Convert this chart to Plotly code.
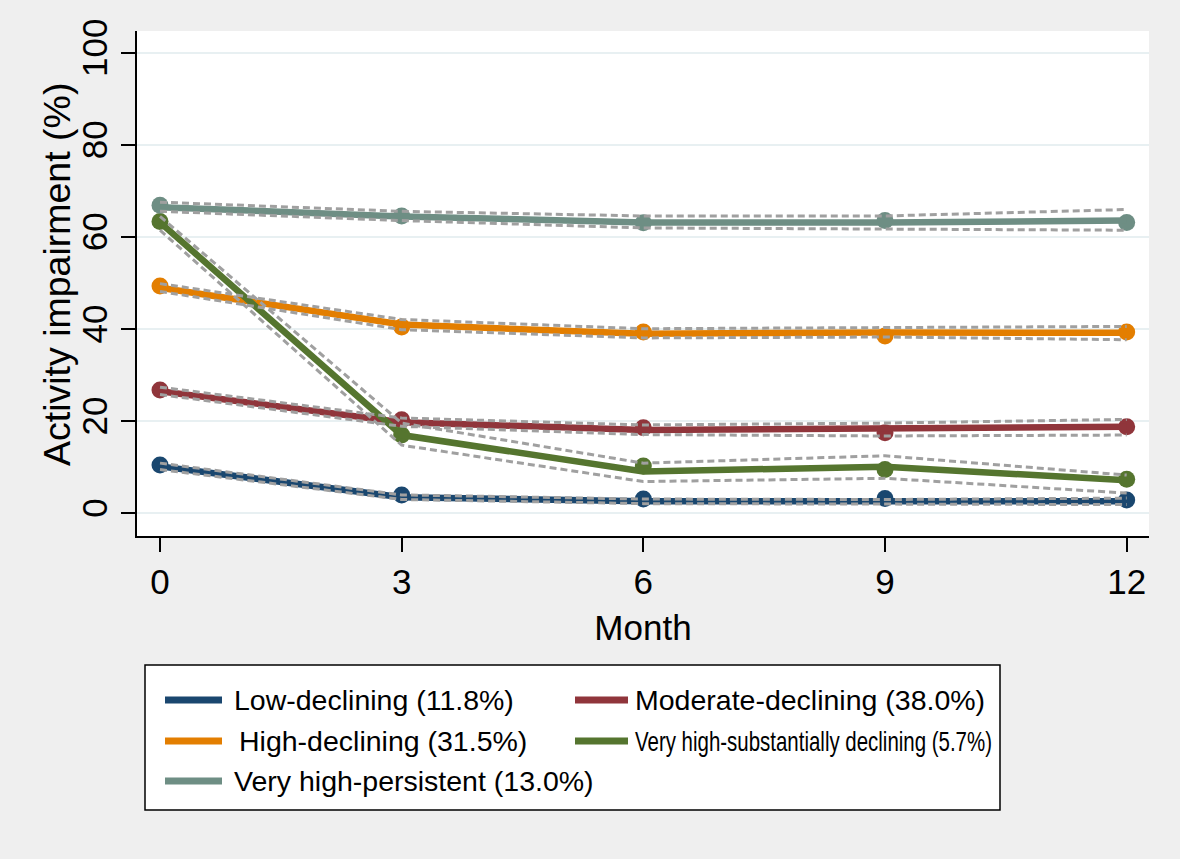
import plotly.graph_objects as go

months = [0, 3, 6, 9, 12]

group_names = [
    "Low-declining (11.8%)",
    "Moderate-declining (38.0%)",
    "High-declining (31.5%)",
    "Very high-substantially declining (5.7%)",
    "Very high-persistent (13.0%)",
]
group_colors = ["#1a476f", "#90353b", "#e37e00", "#55752f", "#6e8e84"]

# observed means (markers)
low_obs = [10.5, 4.0, 3.1, 3.2, 2.9]
mod_obs = [26.8, 20.3, 18.6, 17.5, 18.8]
high_obs = [49.4, 40.5, 39.4, 38.5, 39.4]
vhs_obs = [63.4, 17.0, 10.3, 9.5, 7.4]
vhp_obs = [66.9, 64.6, 63.1, 63.6, 63.2]

# predicted trajectories (lines)
low_pred = [10.2, 3.5, 2.6, 2.5, 2.6]
mod_pred = [26.5, 19.8, 18.1, 18.3, 18.8]
high_pred = [49.0, 41.0, 39.0, 39.3, 39.2]
vhs_pred = [63.2, 17.0, 9.1, 10.1, 7.2]
vhp_pred = [66.5, 64.5, 63.2, 63.2, 63.6]

# 95% confidence bounds (dashed)
low_lo = [9.5, 3.0, 2.1, 2.0, 1.9]
low_hi = [10.9, 4.0, 3.1, 3.0, 3.3]
mod_lo = [25.8, 18.9, 17.1, 16.8, 17.0]
mod_hi = [27.4, 20.7, 19.2, 19.6, 20.4]
high_lo = [48.2, 39.9, 38.1, 38.3, 37.7]
high_hi = [49.9, 42.1, 40.1, 40.4, 40.6]
vhs_lo = [61.5, 14.8, 6.9, 7.6, 4.4]
vhs_hi = [64.5, 19.6, 10.9, 12.5, 8.3]
vhp_lo = [65.6, 63.6, 62.0, 61.8, 61.5]
vhp_hi = [67.6, 65.6, 64.6, 64.6, 66.0]

obs = [low_obs, mod_obs, high_obs, vhs_obs, vhp_obs]
pred = [low_pred, mod_pred, high_pred, vhs_pred, vhp_pred]
lo = [low_lo, mod_lo, high_lo, vhs_lo, vhp_lo]
hi = [low_hi, mod_hi, high_hi, vhs_hi, vhp_hi]

y_ticks = [0, 20, 40, 60, 80, 100]

FONT = "Liberation Sans, Arial, sans-serif"

# figure geometry (pixels) used to place the hand-drawn key
W, H = 1180, 859
L, R, T, B = 137, 31, 31, 323
PW, PH = W - L - R, H - T - B


def px(xp):
    return (xp - L) / PW


def py(yp):
    return (H - B - yp) / PH


fig = go.Figure()

for i in range(5):
    fig.add_trace(go.Scatter(
        x=months, y=obs[i], mode="markers",
        marker=dict(color=group_colors[i], size=17, line=dict(width=0)),
        showlegend=False, hoverinfo="skip",
    ))

for i in range(5):
    fig.add_trace(go.Scatter(
        x=months, y=pred[i], mode="lines", name=group_names[i],
        line=dict(color=group_colors[i], width=6.5),
        showlegend=False,
    ))

for i in range(5):
    for bound in (lo[i], hi[i]):
        fig.add_trace(go.Scatter(
            x=months, y=bound, mode="lines",
            line=dict(color="#a0a0a0", width=3, dash="7px,4px"),
            showlegend=False, hoverinfo="skip",
        ))

# key (legend) drawn in paper coordinates
shapes = [dict(
    type="rect", xref="paper", yref="paper",
    x0=px(145), x1=px(1000), y0=py(665), y1=py(810),
    line=dict(color="#000000", width=1.5), fillcolor="#ffffff", layer="above",
)]
annotations = []
key_pos = [(165, 222, 232, 700), (575, 628, 633, 700),
           (165, 222, 237, 741), (575, 628, 633, 741),
           (165, 222, 232, 781)]
for i, (sx0, sx1, tx, ty) in enumerate(key_pos):
    shapes.append(dict(
        type="line", xref="paper", yref="paper",
        x0=px(sx0), x1=px(sx1), y0=py(ty), y1=py(ty),
        line=dict(color=group_colors[i], width=7), layer="above",
    ))
    annotations.append(dict(
        xref="paper", yref="paper", x=px(tx), y=py(ty),
        xanchor="left", yanchor="middle", showarrow=False,
        text=group_names[i],
        font=dict(family=FONT, size=28.5, color="#000000"),
    ))

annotations.append(dict(
    xref="paper", yref="paper", x=px(57), y=py(275),
    xanchor="center", yanchor="middle", showarrow=False, textangle=-90,
    text="Activity impairment (%)",
    font=dict(family=FONT, size=37.5, color="#000000"),
))

fig.update_layout(
    width=W, height=H,
    margin=dict(l=L, r=R, t=T, b=B, autoexpand=False),
    paper_bgcolor="#efefef",
    plot_bgcolor="#ffffff",
    font=dict(family=FONT, size=35, color="#000000"),
    showlegend=False,
    shapes=shapes,
    annotations=annotations,
)

fig.update_xaxes(
    range=[-0.2855, 12.277],
    tickmode="array", tickvals=months, ticktext=[str(m) for m in months],
    showgrid=False, zeroline=False,
    showline=True, linecolor="#000000", linewidth=1.5,
    ticks="outside", ticklen=14, tickwidth=1.5, tickcolor="#000000",
    tickfont=dict(size=35),
    title=dict(text="Month", font=dict(size=35), standoff=16),
)

fig.update_yaxes(
    range=[-4.93, 104.78],
    tickmode="array", tickvals=y_ticks, ticktext=[str(v) for v in y_ticks],
    tickangle=-90,
    showgrid=True, gridcolor="#e8f0f2", gridwidth=2,
    zeroline=False,
    showline=True, linecolor="#000000", linewidth=1.5,
    ticks="outside", ticklen=14, tickwidth=1.5, tickcolor="#000000",
    tickfont=dict(size=35),
    ticklabelstandoff=0,
)

# the original key squeezes the long label horizontally to fit its box
post = """
document.body.style.margin = '0';
var gd = document.getElementById('{plot_id}');
gd.querySelectorAll('text').forEach(function (t) {
  if (t.textContent.indexOf('Very high-substantially') === 0) {
    var b1 = t.getBBox();
    t.setAttribute('textLength', '357');
    t.setAttribute('lengthAdjust', 'spacingAndGlyphs');
    var b2 = t.getBBox();
    var x0 = parseFloat(t.getAttribute('x') || '0');
    t.setAttribute('x', x0 + (b1.x - b2.x));
  }
});
"""

fig.write_html("out.html", post_script=post, config={"displayModeBar": False})
